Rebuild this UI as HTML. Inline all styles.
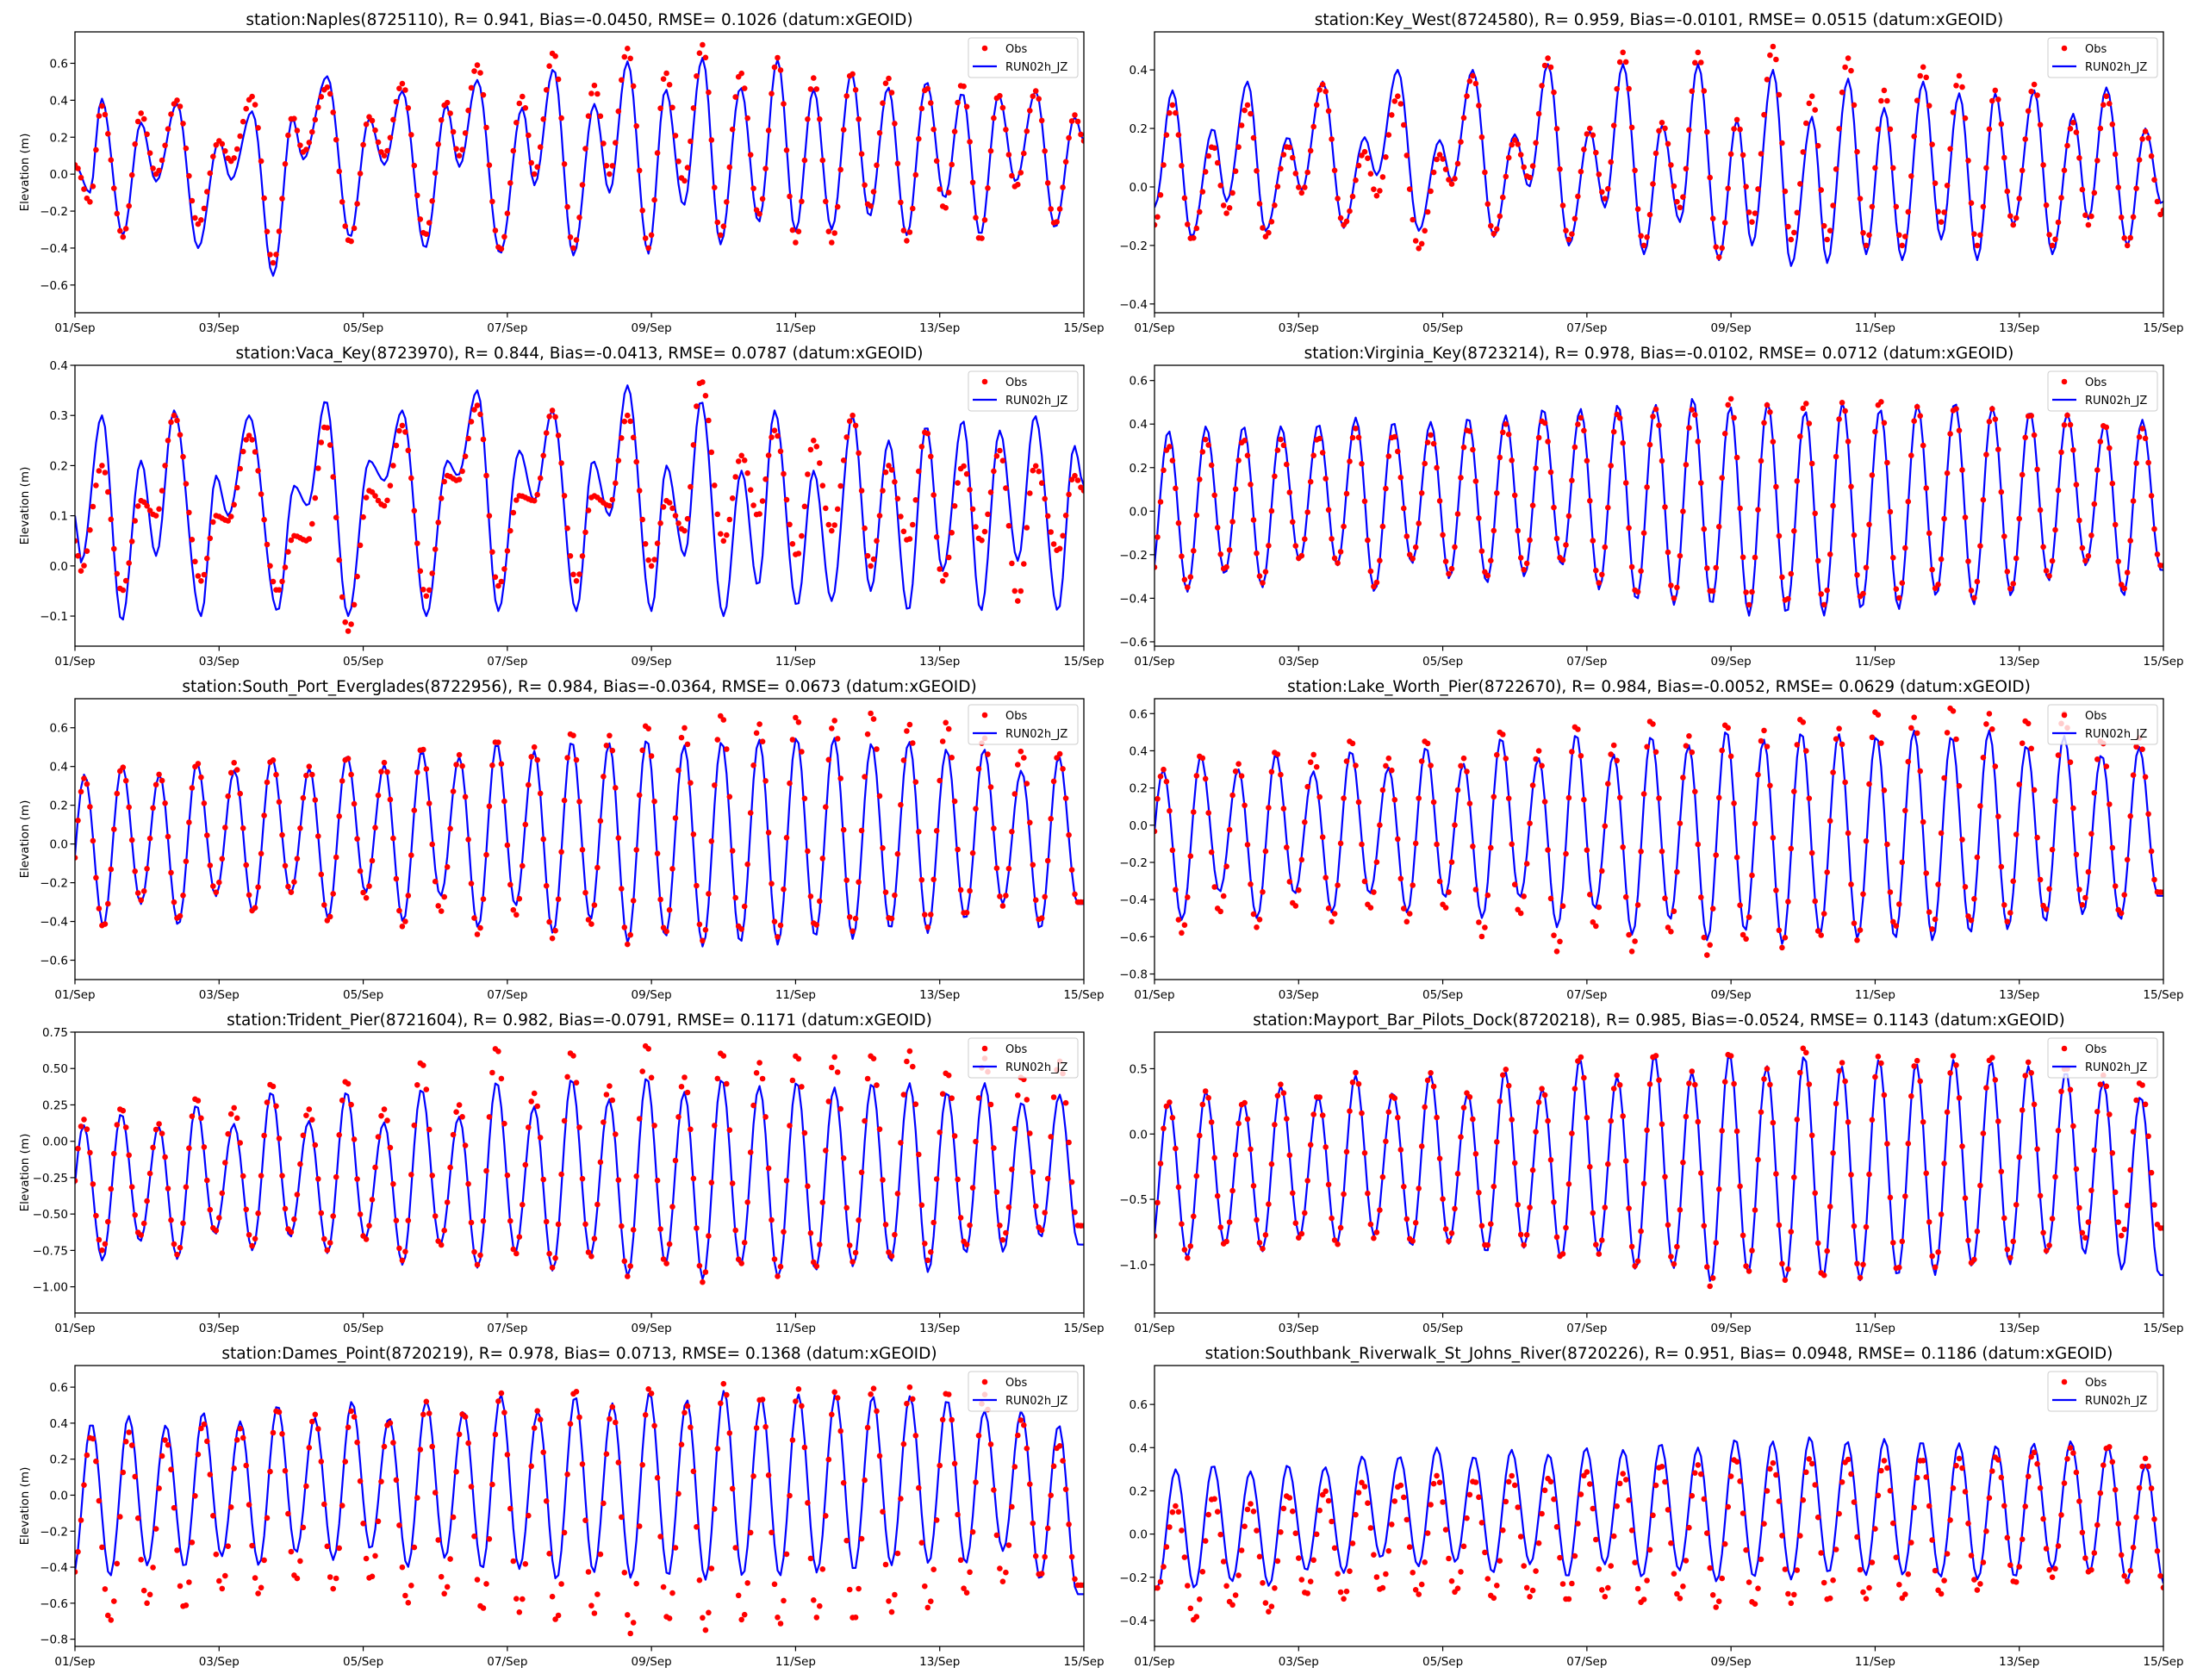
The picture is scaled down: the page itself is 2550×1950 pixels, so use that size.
<!DOCTYPE html>
<html><head><meta charset="utf-8"><title>Station elevation comparison</title>
<style>
html,body{margin:0;padding:0;background:#fff;}
svg{display:block;font-family:"DejaVu Sans","Liberation Sans",sans-serif;}
</style></head>
<body>
<svg id="fig" xmlns="http://www.w3.org/2000/svg" width="2550" height="1950" viewBox="0 0 2550 1950">
<rect x="0" y="0" width="2550" height="1950" fill="#fff"/>
</svg>
<script>
// ---------- data ----------
const xTickLabels = ["01/Sep","03/Sep","05/Sep","07/Sep","09/Sep","11/Sep","13/Sep","15/Sep"];
const xTickHours = [0,48,96,144,192,240,288,336];

// Naples: extremum times (h) and values
const naplesT = [0,5,8.8,16,22,27,34,41,48,52,59,66,72.5,76,84,91.6,98,103,109,116.6,123.7,128,134,141.6,149,153,159.4,166,173,178,184,191,196.7,202.7,209,215,221.7,227.7,234,240,246,252,258.6,264.6,270.8,277,283.6,289.6,295.5,301.5,307.6,313.3,320,326.4,333,336];
const naplesModel = [0.05,-0.10,0.41,-0.33,0.28,-0.04,0.38,-0.40,0.18,-0.03,0.34,-0.55,0.30,0.08,0.53,-0.34,0.30,0.05,0.45,-0.40,0.37,0.04,0.51,-0.43,0.36,-0.06,0.57,-0.44,0.38,-0.10,0.61,-0.43,0.46,-0.17,0.63,-0.38,0.47,-0.26,0.62,-0.31,0.46,-0.30,0.55,-0.23,0.47,-0.33,0.50,-0.13,0.44,-0.33,0.43,-0.04,0.45,-0.29,0.31,0.18];
const naplesObs = [0.05,-0.15,0.37,-0.34,0.33,0.0,0.40,-0.27,0.18,0.07,0.42,-0.48,0.31,0.12,0.47,-0.37,0.31,0.10,0.49,-0.33,0.39,0.10,0.59,-0.41,0.42,0.0,0.66,-0.40,0.48,0.0,0.68,-0.40,0.55,-0.04,0.70,-0.33,0.55,-0.22,0.63,-0.37,0.52,-0.37,0.55,-0.18,0.52,-0.36,0.47,-0.19,0.49,-0.36,0.43,-0.07,0.45,-0.27,0.32,0.18];

// Key West
const keyWestT = [0,6,12.4,19.5,24,31,37,44.5,49,56,63,70,74,81,88,95,99,106,113,120,124.7,131,138,145,150,156,163,169,175,181,188,194,199,206,212,219,224,231,237,243,249,256,262,268,274,280,286,293,299,306,311,317,324,330,335.5,336];
const keyWestModel = [-0.07,0.33,-0.17,0.20,-0.05,0.36,-0.15,0.17,-0.01,0.36,-0.14,0.17,0.04,0.40,-0.15,0.16,0.02,0.40,-0.17,0.18,0.0,0.42,-0.20,0.19,-0.07,0.42,-0.23,0.21,-0.12,0.42,-0.25,0.23,-0.20,0.40,-0.27,0.24,-0.26,0.37,-0.23,0.27,-0.25,0.36,-0.18,0.32,-0.25,0.32,-0.13,0.33,-0.23,0.25,-0.11,0.34,-0.20,0.20,-0.06,-0.05];
const keyWestObs = [-0.13,0.28,-0.18,0.14,-0.09,0.28,-0.17,0.14,-0.02,0.35,-0.13,0.12,-0.03,0.31,-0.21,0.11,0.01,0.38,-0.16,0.16,0.03,0.44,-0.18,0.20,-0.04,0.46,-0.20,0.22,-0.07,0.46,-0.24,0.23,-0.12,0.48,-0.18,0.31,-0.18,0.44,-0.20,0.33,-0.20,0.41,-0.12,0.38,-0.20,0.33,-0.13,0.35,-0.20,0.22,-0.13,0.31,-0.20,0.19,-0.10,-0.08];

// Vaca Key
const vacaT = [0,2,9,15.6,22,27,33,42,47,51,58,67.5,73,77.5,83.5,91,98,103,109,117,124,127.5,134,141,148,153,159,167,172.5,178,184,192,197,203,208.5,216,222,227.5,233,240.5,246,252,259,265,271,277.5,283.5,289,295.7,301.7,308,314,319.7,327.4,332.8,336];
const vacaModel = [0.10,0.007,0.30,-0.11,0.21,0.02,0.31,-0.10,0.18,0.10,0.30,-0.09,0.16,0.12,0.33,-0.10,0.21,0.17,0.31,-0.10,0.21,0.18,0.35,-0.09,0.23,0.13,0.31,-0.09,0.21,0.10,0.36,-0.09,0.20,0.02,0.33,-0.10,0.19,-0.04,0.31,-0.08,0.19,-0.07,0.30,-0.05,0.25,-0.09,0.28,-0.01,0.29,-0.09,0.27,0.01,0.30,-0.09,0.24,0.16];
const vacaObs = [0.05,-0.01,0.20,-0.05,0.13,0.10,0.30,-0.03,0.10,0.09,0.26,-0.05,0.06,0.05,0.28,-0.13,0.15,0.12,0.28,-0.06,0.18,0.17,0.32,-0.04,0.14,0.13,0.31,-0.03,0.14,0.12,0.30,0.0,0.13,0.07,0.37,0.05,0.22,0.10,0.27,0.02,0.25,0.07,0.30,0.0,0.20,0.05,0.27,-0.03,0.20,0.05,0.23,-0.07,0.20,0.03,0.18,0.15];

// Regular semidiurnal stations: [first high hour, period hours, preceding low]
const virginiaTiming = [4.7,12.47,-0.35];
const virginiaHigh = [0.37,0.39,0.39,0.39,0.40,0.43,0.41,0.41,0.43,0.44,0.47,0.47,0.49,0.49,0.52,0.48,0.50,0.46,0.50,0.47,0.49,0.50,0.48,0.46,0.45,0.40,0.42];
const virginiaLow = [-0.37,-0.29,-0.35,-0.23,-0.25,-0.37,-0.24,-0.31,-0.33,-0.30,-0.25,-0.36,-0.41,-0.43,-0.43,-0.48,-0.47,-0.48,-0.45,-0.45,-0.39,-0.43,-0.39,-0.32,-0.25,-0.39,-0.27];
const virginiaObsHigh = [0.30,0.33,0.33,0.33,0.34,0.38,0.35,0.35,0.38,0.40,0.42,0.43,0.45,0.47,0.47,0.52,0.49,0.50,0.50,0.51,0.48,0.48,0.47,0.45,0.44,0.40,0.38];
const virginiaObsLow = [-0.35,-0.27,-0.33,-0.22,-0.24,-0.35,-0.22,-0.29,-0.30,-0.27,-0.23,-0.33,-0.38,-0.40,-0.38,-0.43,-0.42,-0.43,-0.40,-0.40,-0.36,-0.40,-0.36,-0.30,-0.23,-0.36,-0.25];

const southPortTiming = [3.2,12.48,-0.45];
const southPortHigh = [0.36,0.41,0.36,0.42,0.38,0.45,0.39,0.46,0.41,0.48,0.45,0.52,0.48,0.53,0.52,0.54,0.51,0.53,0.54,0.55,0.55,0.52,0.53,0.49,0.49,0.38,0.45];
const southPortLow = [-0.42,-0.31,-0.42,-0.27,-0.36,-0.26,-0.38,-0.25,-0.40,-0.27,-0.43,-0.32,-0.46,-0.39,-0.51,-0.48,-0.53,-0.51,-0.52,-0.48,-0.49,-0.44,-0.46,-0.39,-0.31,-0.44,-0.31];
const southPortObsHigh = [0.34,0.40,0.36,0.42,0.42,0.44,0.40,0.45,0.42,0.50,0.46,0.54,0.50,0.58,0.56,0.62,0.60,0.67,0.62,0.66,0.64,0.68,0.62,0.63,0.55,0.48,0.47];
const southPortObsLow = [-0.43,-0.29,-0.39,-0.25,-0.35,-0.25,-0.40,-0.28,-0.43,-0.35,-0.47,-0.37,-0.49,-0.42,-0.52,-0.46,-0.50,-0.45,-0.48,-0.43,-0.45,-0.40,-0.43,-0.37,-0.32,-0.40,-0.30];

const lakeWorthTiming = [2.9,12.5,-0.45];
const lakeWorthHigh = [0.30,0.37,0.30,0.38,0.29,0.40,0.31,0.42,0.33,0.47,0.36,0.49,0.38,0.48,0.43,0.51,0.46,0.50,0.49,0.48,0.51,0.48,0.51,0.43,0.48,0.38,0.42];
const lakeWorthLow = [-0.51,-0.36,-0.50,-0.37,-0.47,-0.37,-0.47,-0.39,-0.50,-0.39,-0.55,-0.45,-0.59,-0.51,-0.62,-0.57,-0.64,-0.58,-0.61,-0.61,-0.62,-0.58,-0.56,-0.52,-0.48,-0.51,-0.38];
const lakeWorthObsHigh = [0.30,0.38,0.33,0.40,0.38,0.46,0.36,0.46,0.36,0.51,0.40,0.54,0.43,0.57,0.48,0.55,0.51,0.58,0.52,0.62,0.58,0.64,0.60,0.57,0.60,0.46,0.47];
const lakeWorthObsLow = [-0.58,-0.47,-0.55,-0.44,-0.52,-0.45,-0.52,-0.45,-0.60,-0.48,-0.68,-0.55,-0.68,-0.58,-0.70,-0.62,-0.66,-0.60,-0.62,-0.55,-0.56,-0.52,-0.52,-0.46,-0.43,-0.48,-0.36];

const tridentTiming = [2.9,12.5,-0.80];
const tridentHigh = [0.11,0.19,0.10,0.25,0.12,0.34,0.14,0.34,0.13,0.36,0.17,0.41,0.24,0.43,0.29,0.44,0.34,0.43,0.38,0.41,0.37,0.40,0.40,0.34,0.40,0.27,0.32];
const tridentLow = [-0.82,-0.69,-0.81,-0.64,-0.75,-0.66,-0.77,-0.67,-0.85,-0.71,-0.87,-0.76,-0.89,-0.79,-0.93,-0.84,-0.95,-0.86,-0.94,-0.89,-0.86,-0.83,-0.90,-0.77,-0.76,-0.66,-0.71];
const tridentObsHigh = [0.15,0.23,0.12,0.30,0.23,0.40,0.22,0.42,0.22,0.55,0.25,0.65,0.33,0.62,0.38,0.67,0.44,0.62,0.54,0.60,0.58,0.60,0.62,0.48,0.57,0.45,0.55];
const tridentObsLow = [-0.75,-0.65,-0.78,-0.62,-0.72,-0.63,-0.75,-0.68,-0.82,-0.72,-0.85,-0.78,-0.87,-0.80,-0.93,-0.85,-0.97,-0.85,-0.93,-0.87,-0.83,-0.80,-0.82,-0.72,-0.68,-0.62,-0.58];

const mayportTiming = [4.7,12.45,-0.95];
const mayportHigh = [0.25,0.33,0.25,0.37,0.28,0.45,0.32,0.46,0.31,0.48,0.35,0.57,0.44,0.60,0.48,0.61,0.52,0.60,0.52,0.57,0.54,0.57,0.56,0.52,0.48,0.40,0.29];
const mayportLow = [-0.95,-0.85,-0.90,-0.78,-0.84,-0.78,-0.86,-0.84,-0.91,-0.87,-0.96,-0.92,-1.04,-1.03,-1.13,-1.07,-1.13,-1.11,-1.12,-1.09,-1.08,-1.02,-1.00,-0.92,-0.92,-1.04,-1.08];
const mayportObsHigh = [0.25,0.33,0.25,0.38,0.30,0.47,0.30,0.47,0.32,0.50,0.35,0.60,0.45,0.62,0.48,0.63,0.50,0.67,0.55,0.60,0.57,0.60,0.60,0.55,0.52,0.45,0.40];
const mayportObsLow = [-0.95,-0.85,-0.88,-0.80,-0.85,-0.80,-0.83,-0.82,-0.87,-0.85,-0.95,-0.92,-1.02,-1.00,-1.17,-1.06,-1.12,-1.10,-1.10,-1.05,-1.02,-1.00,-0.95,-0.90,-0.80,-0.78,-0.72];

const damesTiming = [5.5,12.39,-0.45];
const damesHigh = [0.40,0.44,0.39,0.46,0.41,0.50,0.43,0.52,0.43,0.53,0.47,0.56,0.47,0.55,0.51,0.57,0.53,0.58,0.54,0.56,0.56,0.55,0.55,0.53,0.47,0.47,0.39];
const damesLow = [-0.45,-0.39,-0.40,-0.34,-0.39,-0.32,-0.36,-0.30,-0.40,-0.35,-0.41,-0.41,-0.47,-0.43,-0.46,-0.45,-0.47,-0.45,-0.45,-0.43,-0.42,-0.39,-0.38,-0.38,-0.31,-0.47,-0.55];
const damesObsHigh = [0.33,0.35,0.31,0.40,0.37,0.48,0.45,0.47,0.41,0.52,0.46,0.57,0.47,0.59,0.49,0.60,0.50,0.62,0.55,0.59,0.58,0.60,0.60,0.58,0.56,0.42,0.28];
const damesObsLow = [-0.70,-0.60,-0.63,-0.52,-0.55,-0.47,-0.52,-0.47,-0.60,-0.55,-0.64,-0.65,-0.70,-0.66,-0.77,-0.70,-0.75,-0.70,-0.72,-0.68,-0.70,-0.65,-0.63,-0.55,-0.48,-0.45,-0.50];

const southbankTiming = [7.1,12.42,-0.25];
const southbankHigh = [0.30,0.32,0.29,0.32,0.31,0.36,0.36,0.40,0.36,0.39,0.37,0.40,0.39,0.42,0.40,0.44,0.43,0.45,0.43,0.44,0.43,0.42,0.41,0.42,0.43,0.40,0.32];
const southbankLow = [-0.25,-0.22,-0.24,-0.17,-0.18,-0.11,-0.15,-0.13,-0.18,-0.14,-0.20,-0.14,-0.20,-0.17,-0.22,-0.20,-0.21,-0.18,-0.19,-0.19,-0.20,-0.21,-0.20,-0.16,-0.17,-0.22,-0.23];
const southbankObsHigh = [0.13,0.17,0.14,0.18,0.20,0.24,0.23,0.27,0.25,0.27,0.26,0.29,0.28,0.32,0.32,0.35,0.33,0.35,0.35,0.34,0.35,0.35,0.36,0.38,0.40,0.41,0.35];
const southbankObsLow = [-0.40,-0.33,-0.36,-0.28,-0.30,-0.26,-0.28,-0.27,-0.30,-0.29,-0.31,-0.29,-0.32,-0.30,-0.34,-0.33,-0.32,-0.31,-0.30,-0.30,-0.28,-0.26,-0.23,-0.20,-0.18,-0.22,-0.25];

// ---------- helpers ----------
const NS = "http://www.w3.org/2000/svg";
const svg = document.getElementById("fig");
function mk(tag, attrs, parent){ const e=document.createElementNS(NS,tag); for(const k in attrs) e.setAttribute(k,attrs[k]); (parent||svg).appendChild(e); return e; }
function uniformExt(timing, hi, lo){
  const t0=timing[0], per=timing[1];
  const T=[t0-per/2], V=[timing[2]];
  for(let k=0;k<hi.length;k++){ T.push(t0+k*per); V.push(hi[k]); T.push(t0+k*per+per/2); V.push(lo[k]); }
  return [T,V];
}
function interp(T,V,t){
  const n=Math.min(T.length,V.length);
  if(t<=T[0]) return V[0];
  if(t>=T[n-1]) return V[n-1];
  for(let i=0;i<n-1;i++){
    if(t>=T[i] && t<=T[i+1]){
      const f=(t-T[i])/(T[i+1]-T[i]); const w=0.5-0.5*Math.cos(Math.PI*f);
      return V[i]+(V[i+1]-V[i])*w;
    }
  }
  return V[n-1];
}
function fmtNeg(s){ return s.replace("-","\u2212"); }

const W=1171, H=326, colX=[87,1340], rowY0=37, rowStep=387;

function makePanel(idx, title, model, obs, ylim, yticks, ydec, ylabel){
  const col=idx%2, row=Math.floor(idx/2);
  const x0=colX[col], y0=rowY0+row*rowStep;
  const g=mk("g",{});
  
  
  const xs=h=>x0+h/336*W;
  const ys=v=>y0+(ylim[1]-v)/(ylim[1]-ylim[0])*H;
  // title
  const tt=mk("text",{x:x0+W/2,y:y0-8,"text-anchor":"middle","font-size":"18.5",fill:"#000"},g);
  tt.textContent=title;
  
  
  // clip
  const cid="clip"+idx;
  const cp=mk("clipPath",{id:cid},g); mk("rect",{x:x0,y:y0,width:W,height:H},cp);
  // model line
  let d="";
  for(let h=0;h<=336;h++){ d+=(h?"L":"M")+xs(h).toFixed(1)+" "+ys(interp(model[0],model[1],h)).toFixed(1); }
  const pl=mk("path",{d:d,fill:"none",stroke:"#0000ff","stroke-width":"2.2","stroke-linejoin":"round","clip-path":"url(#"+cid+")"},g);
  
  
  // obs dots
  const og=mk("g",{fill:"#ff0000","clip-path":"url(#"+cid+")"},g);
  
  
  for(let h=0;h<=336;h++){
    const v=interp(obs[0],obs[1],h);
    mk("circle",{cx:xs(h).toFixed(1),cy:ys(v).toFixed(1),r:"3.3"},og);
  }
  // frame
  const fr=mk("rect",{x:x0,y:y0,width:W,height:H,fill:"none",stroke:"#000","stroke-width":"1.3"},g);
  
  
  // x ticks
  for(let i=0;i<xTickHours.length;i++){
    const x=xs(xTickHours[i]);
    mk("line",{x1:x,y1:y0+H,x2:x,y2:y0+H+5.5,stroke:"#000","stroke-width":"1.2"},g);
    const t=mk("text",{x:x,y:y0+H+22,"text-anchor":"middle","font-size":"13.5"},g);
    t.textContent=xTickLabels[i];
    
    
  }
  // y ticks
  for(const v of yticks){
    const y=ys(v);
    mk("line",{x1:x0-5.5,y1:y,x2:x0,y2:y,stroke:"#000","stroke-width":"1.2"},g);
    const t=mk("text",{x:x0-8,y:y+5,"text-anchor":"end","font-size":"13.5"},g);
    t.textContent=fmtNeg((Math.abs(v)<1e-9?0:v).toFixed(ydec));
    
    
  }
  if(ylabel){
    const yl=mk("text",{x:0,y:0,transform:"translate("+(x0-54)+","+(y0+H/2)+") rotate(-90)","text-anchor":"middle","font-size":"13.5"},g);
    yl.textContent="Elevation (m)";
    
    
  }
  // legend
  const lx=x0+W-134, ly=y0+7;
  const lg=mk("g",{},g);
  
  
  mk("rect",{x:lx,y:ly,width:127,height:46,rx:3,fill:"#fff","fill-opacity":"0.8",stroke:"#cccccc","stroke-width":"1"},lg);
  mk("circle",{cx:lx+19,cy:ly+12,r:"3.3",fill:"#ff0000"},lg);
  const t1=mk("text",{x:lx+43,y:ly+17,"font-size":"13"},lg); t1.textContent="Obs";
  
  
  mk("line",{x1:lx+5,y1:ly+33,x2:lx+33,y2:ly+33,stroke:"#0000ff","stroke-width":"2.2"},lg);
  const t2=mk("text",{x:lx+43,y:ly+38,"font-size":"13"},lg); t2.textContent="RUN02h_JZ";
  
  
}
function ticks(a,b,s){ const r=[]; for(let v=a; v<=b+1e-9; v+=s) r.push(Math.round(v*1000)/1000); return r; }

makePanel(0,"station:Naples(8725110), R= 0.941, Bias=-0.0450, RMSE= 0.1026 (datum:xGEOID)",
  [naplesT,naplesModel],[naplesT,naplesObs],[-0.75,0.77],ticks(-0.6,0.6,0.2),1,true);
makePanel(1,"station:Key_West(8724580), R= 0.959, Bias=-0.0101, RMSE= 0.0515 (datum:xGEOID)",
  [keyWestT,keyWestModel],[keyWestT,keyWestObs],[-0.43,0.53],ticks(-0.4,0.4,0.2),1,false);
makePanel(2,"station:Vaca_Key(8723970), R= 0.844, Bias=-0.0413, RMSE= 0.0787 (datum:xGEOID)",
  [vacaT,vacaModel],[vacaT,vacaObs],[-0.16,0.40],ticks(-0.1,0.4,0.1),1,true);
makePanel(3,"station:Virginia_Key(8723214), R= 0.978, Bias=-0.0102, RMSE= 0.0712 (datum:xGEOID)",
  uniformExt(virginiaTiming,virginiaHigh,virginiaLow),uniformExt(virginiaTiming,virginiaObsHigh,virginiaObsLow),[-0.62,0.67],ticks(-0.6,0.6,0.2),1,false);
makePanel(4,"station:South_Port_Everglades(8722956), R= 0.984, Bias=-0.0364, RMSE= 0.0673 (datum:xGEOID)",
  uniformExt(southPortTiming,southPortHigh,southPortLow),uniformExt(southPortTiming,southPortObsHigh,southPortObsLow),[-0.70,0.75],ticks(-0.6,0.6,0.2),1,true);
makePanel(5,"station:Lake_Worth_Pier(8722670), R= 0.984, Bias=-0.0052, RMSE= 0.0629 (datum:xGEOID)",
  uniformExt(lakeWorthTiming,lakeWorthHigh,lakeWorthLow),uniformExt(lakeWorthTiming,lakeWorthObsHigh,lakeWorthObsLow),[-0.83,0.68],ticks(-0.8,0.6,0.2),1,false);
makePanel(6,"station:Trident_Pier(8721604), R= 0.982, Bias=-0.0791, RMSE= 0.1171 (datum:xGEOID)",
  uniformExt(tridentTiming,tridentHigh,tridentLow),uniformExt(tridentTiming,tridentObsHigh,tridentObsLow),[-1.18,0.75],ticks(-1.0,0.75,0.25),2,true);
makePanel(7,"station:Mayport_Bar_Pilots_Dock(8720218), R= 0.985, Bias=-0.0524, RMSE= 0.1143 (datum:xGEOID)",
  uniformExt(mayportTiming,mayportHigh,mayportLow),uniformExt(mayportTiming,mayportObsHigh,mayportObsLow),[-1.37,0.78],ticks(-1.0,0.5,0.5),1,false);
makePanel(8,"station:Dames_Point(8720219), R= 0.978, Bias= 0.0713, RMSE= 0.1368 (datum:xGEOID)",
  uniformExt(damesTiming,damesHigh,damesLow),uniformExt(damesTiming,damesObsHigh,damesObsLow),[-0.84,0.72],ticks(-0.8,0.6,0.2),1,true);
makePanel(9,"station:Southbank_Riverwalk_St_Johns_River(8720226), R= 0.951, Bias= 0.0948, RMSE= 0.1186 (datum:xGEOID)",
  uniformExt(southbankTiming,southbankHigh,southbankLow),uniformExt(southbankTiming,southbankObsHigh,southbankObsLow),[-0.52,0.78],ticks(-0.4,0.6,0.2),1,false);
</script>
</body></html>
